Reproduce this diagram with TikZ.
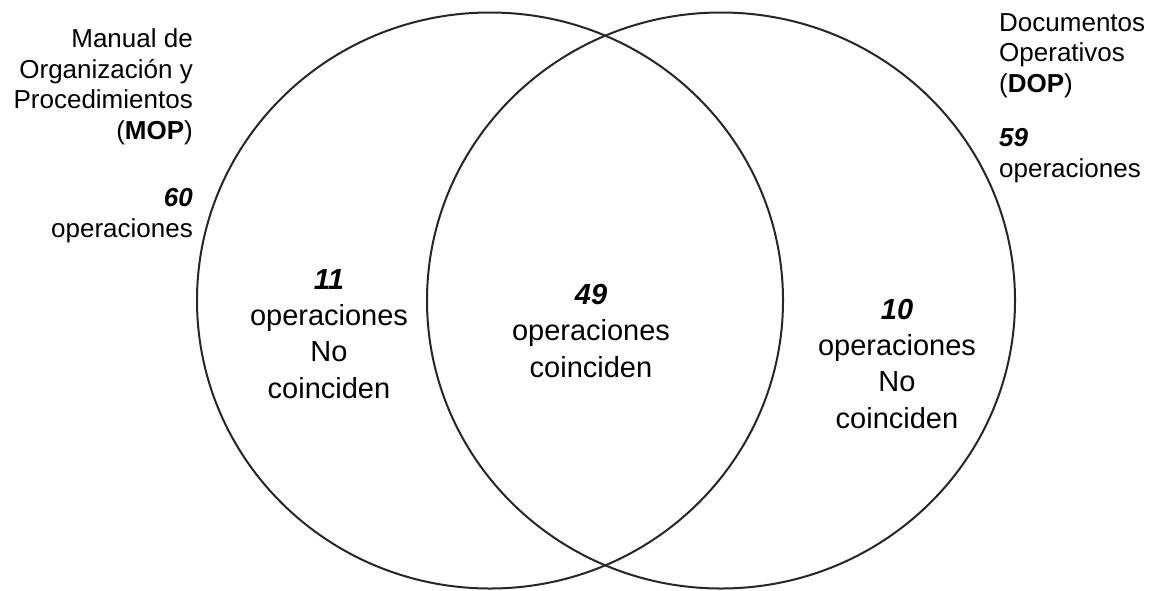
\documentclass[tikz,border=0pt]{standalone}
\usepackage{fontspec}
\setmainfont{Liberation Sans}
\begin{document}
\begin{tikzpicture}[x=1pt,y=-1pt,
  set/.style={draw=black!85,line width=2pt},
  big/.style={font=\fontsize{29}{36.3}\selectfont,align=center,inner sep=0pt,anchor=base},
  side/.style={font=\fontsize{26}{30.5}\selectfont,inner sep=0pt,anchor=base}]
\useasboundingbox (0,0) rectangle (1150,590);
\draw[set] (490,300.5) ellipse [x radius=293, y radius=288] node (mop) {};
\draw[set] (721,300.5) ellipse [x radius=294, y radius=288] node (dop) {};
\node[big] (left) at (329,398) {\textbf{\textit{11}}\\operaciones\\No\\coinciden};
\node[big] (mid) at (591,377) {\textbf{\textit{49}}\\operaciones\\coinciden};
\node[big] (right) at (897,428) {\textbf{\textit{10}}\\operaciones\\No\\coinciden};
\node[side,align=right,anchor=base east] (mopname) at (193,139) {Manual de\\Organización y\\Procedimientos\\(\textbf{MOP})};
\node[side,align=right,anchor=base east] (mopn) at (193,237) {\textbf{\textit{60}}\\operaciones};
\node[side,align=left,anchor=base west] (dopname) at (999,92) {Documentos\\Operativos\\(\textbf{DOP})};
\node[side,align=left,anchor=base west] (dopn) at (999,177) {\textbf{\textit{59}}\\operaciones};
\end{tikzpicture}
\end{document}
